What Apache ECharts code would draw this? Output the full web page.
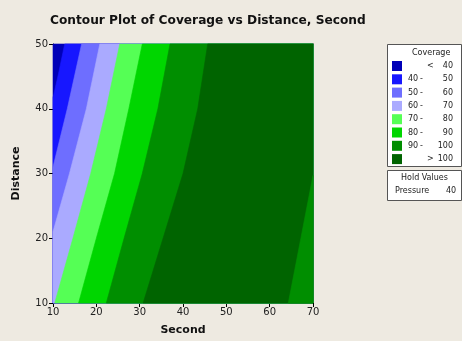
<!DOCTYPE html>
<html>
<head>
<meta charset="utf-8">
<script src="https://cdn.jsdelivr.net/npm/echarts@6/dist/echarts.min.js"></script>
<style>
  html, body { margin: 0; padding: 0; background: #eeeae1; }
  #chart { width: 462px; height: 341px; }
</style>
</head>
<body>
<div id="chart"></div>
<script>
// Coverage band labels and fills, lowest to highest
const levelLabels = [['', '<', '40'], ['40', '-', '50'], ['50', '-', '60'], ['60', '-', '70'],
                     ['70', '-', '80'], ['80', '-', '90'], ['90', '-', '100'], ['', '>', '100']];
const levelColors = ['#0000b8', '#1717ff', '#6e6eff', '#aaaaff', '#55ff55', '#00d600', '#008e00', '#006400'];

// Contour lines as [Second, Distance] points, traced from top to bottom.
// Band k+1 lies to the right of contour k.
const contour40  = [[12.7, 50], [11.3, 45.5], [10, 41.7]];
const contour50  = [[16.6, 50], [13.3, 40], [10, 31]];
const contour60  = [[20.8, 50], [17.7, 40], [13.8, 30], [10, 21]];
const contour70  = [[25.4, 50], [22.3, 40], [18.7, 30], [14.6, 20], [10.4, 10]];
const contour80  = [[30.6, 50], [27.5, 40], [24.2, 30], [20.0, 20], [15.9, 10]];
const contour90  = [[37.0, 50], [34.2, 40], [30.6, 30], [26.4, 20], [22.3, 10]];
const contour100 = [[45.7, 50], [43.4, 40], [40.0, 30], [35.4, 20], [30.8, 10]];
// Second crossing of the 100 level in the lower right corner (back to 90-100)
const contour100b = [[70, 29.7], [67.2, 20], [64.3, 10]];

const xTicks = { min: 10, max: 70, interval: 10 };
const yTicks = { min: 10, max: 50, interval: 10 };
const holdVar = 'Pressure';
const holdVal = 40;

// Painting order: each layer covers everything right of its contour
const layers = [
  { line: null, band: 0 },
  { line: contour40, band: 1 },
  { line: contour50, band: 2 },
  { line: contour60, band: 3 },
  { line: contour70, band: 4 },
  { line: contour80, band: 5 },
  { line: contour90, band: 6 },
  { line: contour100, band: 7 },
  { line: contour100b, band: 6 }
];

const X0 = xTicks.min, X1 = xTicks.max, Y0 = yTicks.min, Y1 = yTicks.max;

// Close a contour against the right side of the plot region
function regionRightOf(line) {
  if (!line) return [[X0, Y1], [X1, Y1], [X1, Y0], [X0, Y0]];
  const pts = line.slice();
  const last = pts[pts.length - 1];
  if (last[0] === X0 && last[1] > Y0) pts.push([X0, Y0]);
  pts.push([X1, Y0]);
  if (line[0][1] === Y1) pts.push([X1, Y1]);
  return pts;
}

const chart = echarts.init(document.getElementById('chart'), null, { renderer: 'canvas' });

const axisFont = { fontFamily: 'DejaVu Sans', fontSize: 10, color: '#222' };
const grid = { left: 53, right: 149, top: 44, bottom: 36 };

const option = {
  backgroundColor: '#eeeae1',
  animation: false,
  title: {
    text: 'Contour Plot of Coverage vs Distance, Second',
    left: 45, top: 10,
    textStyle: { fontFamily: 'DejaVu Sans', fontWeight: 'bold', fontSize: 12.2, color: '#111' }
  },
  grid: grid,
  xAxis: [{
    type: 'value', min: xTicks.min, max: xTicks.max, interval: xTicks.interval,
    name: 'Second', nameLocation: 'middle', nameGap: 22,
    nameTextStyle: { fontFamily: 'DejaVu Sans', fontWeight: 'bold', fontSize: 11, color: '#111' },
    axisLine: { show: true, lineStyle: { color: '#000', width: 1 } },
    axisTick: { show: true, length: 4, lineStyle: { color: '#000' } },
    axisLabel: Object.assign({ margin: 4 }, axisFont),
    splitLine: { show: false }
  }, {
    type: 'value', position: 'top', min: xTicks.min, max: xTicks.max,
    axisLine: { show: true, onZero: false, lineStyle: { color: '#000', width: 1 } },
    axisTick: { show: false }, axisLabel: { show: false }, splitLine: { show: false }
  }],
  yAxis: [{
    type: 'value', min: yTicks.min, max: yTicks.max, interval: yTicks.interval,
    name: 'Distance', nameLocation: 'middle', nameGap: 31,
    nameTextStyle: { fontFamily: 'DejaVu Sans', fontWeight: 'bold', fontSize: 11, color: '#111' },
    axisLine: { show: true, lineStyle: { color: '#000', width: 1 } },
    axisTick: { show: true, length: 4, lineStyle: { color: '#000' } },
    axisLabel: Object.assign({ margin: 5 }, axisFont),
    splitLine: { show: false }
  }, {
    type: 'value', position: 'right', min: yTicks.min, max: yTicks.max,
    axisLine: { show: true, onZero: false, lineStyle: { color: '#000', width: 1 } },
    axisTick: { show: false }, axisLabel: { show: false }, splitLine: { show: false }
  }],
  series: [{
    type: 'custom',
    coordinateSystem: 'cartesian2d',
    xAxisIndex: 0, yAxisIndex: 0,
    silent: true,
    z: 1,
    data: layers.map((l, i) => [i]),
    renderItem: function (params, api) {
      const layer = layers[api.value(0)];
      const pts = regionRightOf(layer.line).map(p => api.coord(p));
      return {
        type: 'polygon',
        shape: { points: pts },
        style: { fill: levelColors[layer.band], stroke: levelColors[layer.band], lineWidth: 0.6 }
      };
    }
  }]
};
chart.setOption(option);

// Legend boxes: coverage bands and held factor value
const legendLeft = 387, legendTop = 44, legendW = 75, rowH = 13.3;
const textStyle = t => ({ text: t, font: '8px "DejaVu Sans"', fill: '#222' });
const legendItems = [];
legendItems.push({
  type: 'rect', left: legendLeft, top: legendTop,
  shape: { width: legendW - 1, height: 122 },
  style: { fill: '#ffffff', stroke: '#555', lineWidth: 1 }, z: 10
});
legendItems.push({ type: 'text', left: 412, top: legendTop + 5, z: 11, style: textStyle('Coverage') });
levelLabels.forEach((lab, i) => {
  const y = legendTop + 17 + i * rowH;
  legendItems.push({
    type: 'rect', left: 392, top: y, z: 11,
    shape: { width: 10, height: 10 },
    style: { fill: levelColors[i], lineWidth: 0 }
  });
  legendItems.push({ type: 'text', left: 408, top: y + 1, z: 11, style: textStyle(lab[0]) });
  legendItems.push({ type: 'text', left: lab[1] === '-' ? 420 : 427, top: y + 1, z: 11, style: textStyle(lab[1]) });
  legendItems.push({ type: 'text', right: 9, top: y + 1, z: 11, style: textStyle(lab[2]) });
});
legendItems.push({
  type: 'rect', left: legendLeft, top: 170,
  shape: { width: legendW - 1, height: 30 },
  style: { fill: '#ffffff', stroke: '#555', lineWidth: 1 }, z: 10
});
legendItems.push({ type: 'text', left: 401, top: 174, z: 11, style: textStyle('Hold Values') });
legendItems.push({ type: 'text', left: 395, top: 187, z: 11, style: textStyle(holdVar) });
legendItems.push({ type: 'text', left: 446, top: 187, z: 11, style: textStyle(String(holdVal)) });
chart.setOption({ graphic: legendItems });
</script>
</body>
</html>
